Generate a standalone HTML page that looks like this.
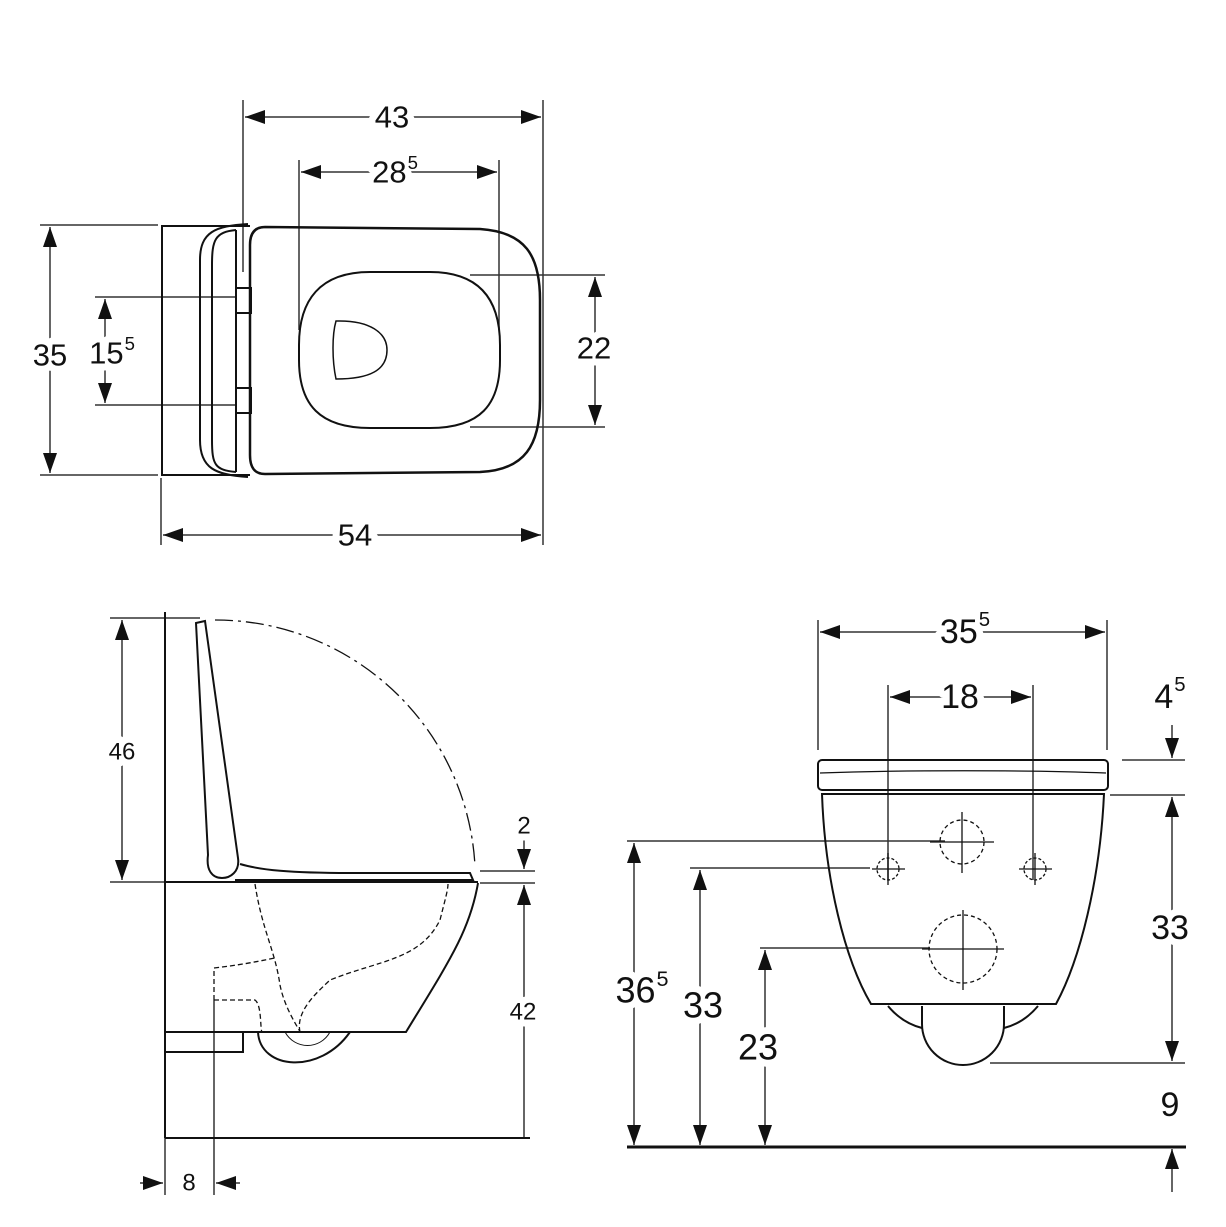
<!DOCTYPE html>
<html><head><meta charset="utf-8"><style>
html,body{margin:0;padding:0;background:#fff}
svg{display:block}
text{font-family:"Liberation Sans",sans-serif;fill:#111;text-anchor:middle;dominant-baseline:central;paint-order:stroke;stroke:#fff;stroke-width:14px;stroke-linejoin:round}
tspan.s{font-size:60%;stroke-width:3px}
</style></head><body>
<svg width="1226" height="1227" viewBox="0 0 1226 1227" xmlns="http://www.w3.org/2000/svg">
<defs>
<marker id="a" viewBox="0 0 20 14" refX="20" refY="7" markerWidth="20" markerHeight="14" markerUnits="userSpaceOnUse" orient="auto-start-reverse"><path d="M0 0 L20 7 L0 14 Z" fill="#111"/></marker>
</defs>
<g stroke="#333" stroke-width="1.5" fill="none">
<line x1="243" y1="100" x2="243" y2="272"/>
<line x1="543" y1="100" x2="543" y2="545"/>
<line x1="245" y1="117" x2="541" y2="117" marker-start="url(#a)" marker-end="url(#a)"/>
<line x1="299" y1="160" x2="299" y2="330"/>
<line x1="499" y1="160" x2="499" y2="330"/>
<line x1="301" y1="172" x2="497" y2="172" marker-start="url(#a)" marker-end="url(#a)"/>
<line x1="40" y1="225" x2="158" y2="225"/>
<line x1="40" y1="475" x2="158" y2="475"/>
<line x1="50" y1="227" x2="50" y2="473" marker-start="url(#a)" marker-end="url(#a)"/>
<line x1="95" y1="297" x2="235" y2="297"/>
<line x1="95" y1="405" x2="235" y2="405"/>
<line x1="105" y1="299" x2="105" y2="403" marker-start="url(#a)" marker-end="url(#a)"/>
<line x1="470" y1="275" x2="605" y2="275"/>
<line x1="470" y1="427" x2="605" y2="427"/>
<line x1="595" y1="277" x2="595" y2="425" marker-start="url(#a)" marker-end="url(#a)"/>
<line x1="161" y1="478" x2="161" y2="545"/>
<line x1="163" y1="535" x2="541" y2="535" marker-start="url(#a)" marker-end="url(#a)"/>
</g>
<g stroke="#111" stroke-width="2" fill="none">
<path d="M250 226 L162 226 L162 475 L250 475"/>
<path d="M248 224 C215 226 200 232 200 260 L200 440 C200 468 215 475 248 477"/>
<path d="M236 230 C215 232 212 240 212 265 L212 440 C212 465 215 470 236 472"/>
<line x1="236" y1="230" x2="236" y2="472"/>
<rect x="236" y="288" width="15" height="25"/>
<rect x="236" y="388" width="15" height="25"/>
<path d="M265 227 L480 229 C525 232 540 255 540 300 L540 400 C540 445 525 470 480 472 L265 474 C255 474 250 468 250 455 L250 245 C250 233 255 227 265 227 Z" stroke-width="2.5"/>
<path d="M370 272 L430 272 C480 272 500 300 500 345 L500 360 C500 405 480 428 430 428 L370 428 C320 428 299 405 299 360 L299 345 C299 300 320 272 370 272 Z"/>
<path d="M336 321 C370 320 387 333 387 350 C387 370 370 379 336 379 C332 360 332 335 336 321 Z" stroke-width="1.5"/>
</g>
<g>
<text x="392" y="117" font-size="31" stroke-width="16">43</text>
<text x="395" y="172" font-size="31" stroke-width="16">28<tspan class="s" dx="1" dy="-10">5</tspan></text>
<text x="50" y="355" font-size="31" stroke-width="16">35</text>
<text x="112" y="353" font-size="31" stroke-width="16">15<tspan class="s" dx="1" dy="-10">5</tspan></text>
<text x="594" y="348" font-size="31" stroke-width="16">22</text>
<text x="355" y="535" font-size="31" stroke-width="16">54</text>
</g>

<g stroke="#333" stroke-width="1.5" fill="none">
<line x1="110" y1="618" x2="200" y2="618"/>
<line x1="110" y1="882" x2="165" y2="882"/>
<line x1="122" y1="620" x2="122" y2="880" marker-start="url(#a)" marker-end="url(#a)"/>
<line x1="480" y1="871" x2="535" y2="871"/>
<line x1="480" y1="883" x2="535" y2="883"/>
<line x1="524" y1="840" x2="524" y2="869" marker-end="url(#a)"/>
<line x1="524" y1="1137" x2="524" y2="885" marker-end="url(#a)"/>
<line x1="214" y1="1000" x2="214" y2="1195"/>
<line x1="165" y1="1138" x2="165" y2="1195"/>
<line x1="140" y1="1183" x2="163" y2="1183" marker-end="url(#a)"/>
<line x1="240" y1="1183" x2="216" y2="1183" marker-end="url(#a)"/>
</g>
<g stroke="#111" stroke-width="2" fill="none">
<line x1="165" y1="612" x2="165" y2="1138"/>
<line x1="165" y1="1138" x2="530" y2="1138"/>
<path d="M196 623 L205 621 L238 858 C240 872 230 878 222 878 C212 878 206 870 208 855 Z"/>
<path d="M240 864 C260 870 290 873 350 873 L470 873 L473 880 L235 880"/>
<line x1="165" y1="882" x2="478" y2="882"/>
<path d="M478 883 C470 930 450 960 406 1032 L165 1032"/>
<path d="M165 1032 L243 1032 L243 1052 L165 1052"/>
<path d="M258 1032 C260 1070 320 1075 350 1032" />
<path d="M285 1032 C295 1050 320 1050 330 1032" stroke-width="1"/>
<path d="M215 620 A260 260 0 0 1 475 866" stroke-width="1.3" stroke-dasharray="18 5 3 5"/>
<path d="M255 884 C262 930 275 950 280 985 C285 1010 300 1030 300 1032 M214 1000 L255 1000 C262 1005 260 1030 262 1032 M214 1000 L214 968 C240 965 255 962 275 958 M300 1032 C295 1010 320 990 330 980 C380 960 420 960 440 920 C445 900 448 890 448 884" stroke-width="1.3" stroke-dasharray="5 3"/>
</g>
<g>
<text x="122" y="752" font-size="24">46</text>
<text x="524" y="826" font-size="24">2</text>
<text x="523" y="1012" font-size="24">42</text>
<text x="189" y="1183" font-size="24">8</text>
</g>

<g stroke="#333" stroke-width="1.5" fill="none">
<line x1="818" y1="620" x2="818" y2="750"/>
<line x1="1107" y1="620" x2="1107" y2="750"/>
<line x1="820" y1="632" x2="1105" y2="632" marker-start="url(#a)" marker-end="url(#a)"/>
<line x1="888" y1="685" x2="888" y2="880"/>
<line x1="1033" y1="685" x2="1033" y2="880"/>
<line x1="890" y1="697" x2="1031" y2="697" marker-start="url(#a)" marker-end="url(#a)"/>
<line x1="1122" y1="760" x2="1185" y2="760"/>
<line x1="1172" y1="725" x2="1172" y2="758" marker-end="url(#a)"/>
<line x1="1110" y1="795" x2="1185" y2="795"/>
<line x1="990" y1="1063" x2="1185" y2="1063"/>
<line x1="1172" y1="797" x2="1172" y2="1061" marker-start="url(#a)" marker-end="url(#a)"/>
<line x1="1172" y1="1192" x2="1172" y2="1149" marker-end="url(#a)"/>
<line x1="627" y1="841" x2="945" y2="841"/>
<line x1="690" y1="868" x2="870" y2="868"/>
<line x1="760" y1="948" x2="930" y2="948"/>
<line x1="634" y1="843" x2="634" y2="1145" marker-start="url(#a)" marker-end="url(#a)"/>
<line x1="700" y1="870" x2="700" y2="1145" marker-start="url(#a)" marker-end="url(#a)"/>
<line x1="765" y1="950" x2="765" y2="1145" marker-start="url(#a)" marker-end="url(#a)"/>
</g>
<g stroke="#111" stroke-width="2" fill="none">
<line x1="627" y1="1147" x2="1186" y2="1147" stroke-width="3"/>
<rect x="818" y="760" width="290" height="30" rx="4"/>
<path d="M820 773 C900 770 1030 770 1106 773" stroke-width="1.3"/>
<path d="M822 794 L1104 794 C1100 880 1080 960 1056 1004 L871 1004 C845 960 825 880 822 794 Z"/>
<path d="M922 1006 L922 1024 A41 41 0 0 0 1004 1024 L1004 1006"/>
<path d="M888 1006 C898 1018 910 1025 922 1028 M1038 1006 C1028 1018 1016 1025 1004 1028"/>
</g>
<g stroke="#111" stroke-width="1.3" fill="none">
<circle cx="962" cy="842" r="22" stroke-dasharray="4 3"/>
<circle cx="888" cy="869" r="11" stroke-dasharray="3 2"/>
<circle cx="1035" cy="869" r="11" stroke-dasharray="3 2"/>
<circle cx="963" cy="949" r="34" stroke-dasharray="4 3"/>
<path d="M962 812 V873 M930 842 H994 M888 853 V885 M872 869 H905 M1035 853 V885 M1019 869 H1052 M963 910 V990 M922 949 H1004"/>
</g>
<g>
<text x="965" y="632" font-size="34" stroke-width="18">35<tspan class="s" dx="1" dy="-12">5</tspan></text>
<text x="960" y="697" font-size="34" stroke-width="16">18</text>
<text x="1170" y="697" font-size="34">4<tspan class="s" dx="1" dy="-12">5</tspan></text>
<text x="1170" y="928" font-size="34" stroke-width="18">33</text>
<text x="1170" y="1105" font-size="34">9</text>
<text x="642" y="990" font-size="36" stroke-width="18">36<tspan class="s" dx="1" dy="-12">5</tspan></text>
<text x="703" y="1005" font-size="36" stroke-width="18">33</text>
<text x="758" y="1047" font-size="36" stroke-width="18">23</text>
</g>
</svg>
</body></html>
